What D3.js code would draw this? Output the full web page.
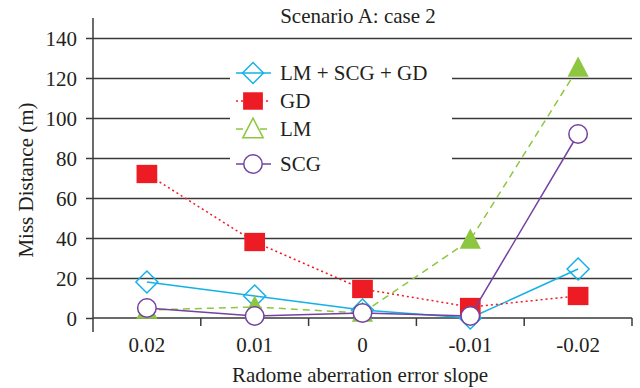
<!DOCTYPE html>
<html>
<head>
<meta charset="utf-8">
<script src="https://cdn.jsdelivr.net/npm/d3@7"></script>
<style>
  body { margin: 0; background: #fff; }
</style>
</head>
<body>
<svg id="chart" width="640" height="388"></svg>
<script>
const slopes = ['0.02', '0.01', '0', '-0.01', '-0.02']
const yTicks = [0, 20, 40, 60, 80, 100, 120, 140]
const names = ['LM + SCG + GD', 'GD', 'LM', 'SCG']
const lmScgGd = [18, 11, 4, 0, 24.5]
const gd = [72, 38, 14.5, 5.5, 11]
const lm = [4, 5.5, 2.5, 39, 125]
const scg = [5, 1, 2.5, 1, 92]

const FONT = '"Liberation Serif", "Times New Roman", Times, Tinos, "DejaVu Serif", serif'
const plotL = 93, plotR = 632, plotT = 38, plotB = 318

const svg = d3.select('#chart')

const x = d3.scaleBand().domain(slopes).range([plotL, plotR])
const y = d3.scaleLinear().domain([0, 140]).range([plotB, plotT])

const series = [
  { name: names[0], values: lmScgGd, color: '#14b1e7', dash: null, shape: 'diamond', fill: 'none' },
  { name: names[1], values: gd, color: '#ed1c24', dash: '2,3', shape: 'square', fill: '#ed1c24' },
  { name: names[2], values: lm, color: '#8dc63f', dash: '7,5', shape: 'triangle', fill: '#8dc63f' },
  { name: names[3], values: scg, color: '#7442a0', dash: null, shape: 'circle', fill: '#fff' }
]

function txt(sel) {
  return sel.style('font-family', FONT).attr('font-size', 21).attr('fill', '#231f20')
}

// grid
svg.append('g')
    .attr('transform', `translate(${plotL},0)`)
    .call(d3.axisLeft(y).tickValues(yTicks.slice(1)).tickSize(-(plotR - plotL)).tickFormat(''))
    .call(g => g.select('.domain').remove())
    .call(g => g.selectAll('line').attr('stroke', '#3a3a3a').attr('stroke-width', 1.5))

// y axis
svg.append('g')
    .attr('transform', `translate(${plotL},0)`)
    .call(d3.axisLeft(y).tickValues(yTicks).tickSize(7).tickPadding(9))
    .call(g => g.select('.domain').remove())
    .call(g => g.selectAll('line').attr('stroke', '#3a3a3a').attr('stroke-width', 1.5))
    .call(g => g.selectAll('text').attr('dy', '0.36em').call(txt))

svg.append('line')
    .attr('x1', plotL).attr('x2', plotL).attr('y1', 18).attr('y2', 332)
    .attr('stroke', '#3a3a3a').attr('stroke-width', 1.5)

// x axis
const xg = svg.append('g').attr('transform', `translate(0,${plotB})`)
xg.append('line').attr('x1', plotL).attr('x2', plotR)
    .attr('stroke', '#3a3a3a').attr('stroke-width', 1.5)
const edges = slopes.map(s => x(s)).concat([plotR])
xg.selectAll('.edge').data(edges.slice(1)).join('line')
    .attr('x1', d => d).attr('x2', d => d).attr('y1', 0).attr('y2', 8)
    .attr('stroke', '#3a3a3a').attr('stroke-width', 1.5)
xg.selectAll('.lab').data(slopes).join('text')
    .attr('x', d => x(d) + x.bandwidth() / 2).attr('y', 34)
    .attr('text-anchor', 'middle')
    .call(txt)
    .text(d => d)

// lines + markers
const line = d3.line().x((d, i) => x(slopes[i]) + x.bandwidth() / 2).y(d => y(d))

function marker(g, shape, size) {
  if (shape === 'diamond') {
    const r = size * 0.5
    return g.append('path').attr('d', `M0,${-r}L${r},0L0,${r}L${-r},0Z`)
  }
  if (shape === 'square') {
    return g.append('rect').attr('x', -size * 0.48).attr('y', -size * 0.42)
      .attr('width', size * 0.96).attr('height', size * 0.84)
  }
  if (shape === 'triangle') {
    const h = size * 0.82, w = size * 0.85
    return g.append('path').attr('d', `M0,${-h * 0.55}L${w / 2},${h * 0.45}L${-w / 2},${h * 0.45}Z`)
  }
  return g.append('circle').attr('r', size * 0.42)
}

series.forEach(s => {
  svg.append('path').datum(s.values)
      .attr('d', line).attr('fill', 'none')
      .attr('stroke', s.color).attr('stroke-width', 1.5)
      .attr('stroke-dasharray', s.dash)
  s.values.forEach((v, i) => {
    const g = svg.append('g')
        .attr('transform', `translate(${x(slopes[i]) + x.bandwidth() / 2},${y(v)})`)
    marker(g, s.shape, s.shape === 'diamond' ? 22 : s.shape === 'square' ? 20 : 22)
        .attr('fill', s.fill).attr('stroke', s.color).attr('stroke-width', 1.5)
  })
})

// legend
const legend = svg.append('g')
legend.append('rect').attr('x', 230).attr('y', 50).attr('width', 222).attr('height', 130).attr('fill', '#fff')
const rowY = [73, 101, 129, 164]
series.forEach((s, i) => {
  const g = legend.append('g').attr('transform', `translate(0,${rowY[i]})`)
  g.append('line').attr('x1', 236).attr('x2', 271)
      .attr('stroke', s.color).attr('stroke-width', 1.5)
      .attr('stroke-dasharray', s.dash)
  const m = g.append('g').attr('transform', 'translate(253,0)')
  marker(m, s.shape, s.shape === 'diamond' ? 21 : s.shape === 'square' ? 19 : s.shape === 'triangle' ? 24 : 22)
      .attr('fill', s.shape === 'triangle' ? '#fff' : s.fill)
      .attr('stroke', s.color).attr('stroke-width', 1.5)
  g.append('text').attr('x', 280).attr('y', 7).call(txt).text(s.name)
})

// titles
svg.append('text').attr('x', 358).attr('y', 23).attr('text-anchor', 'middle')
    .call(txt).text('Scenario A: case 2')
svg.append('text').attr('x', 360).attr('y', 382).attr('text-anchor', 'middle')
    .call(txt).text('Radome aberration error slope')
svg.append('text').attr('transform', 'translate(33,180) rotate(-90)')
    .attr('text-anchor', 'middle').call(txt).text('Miss Distance (m)')
</script>
</body>
</html>
